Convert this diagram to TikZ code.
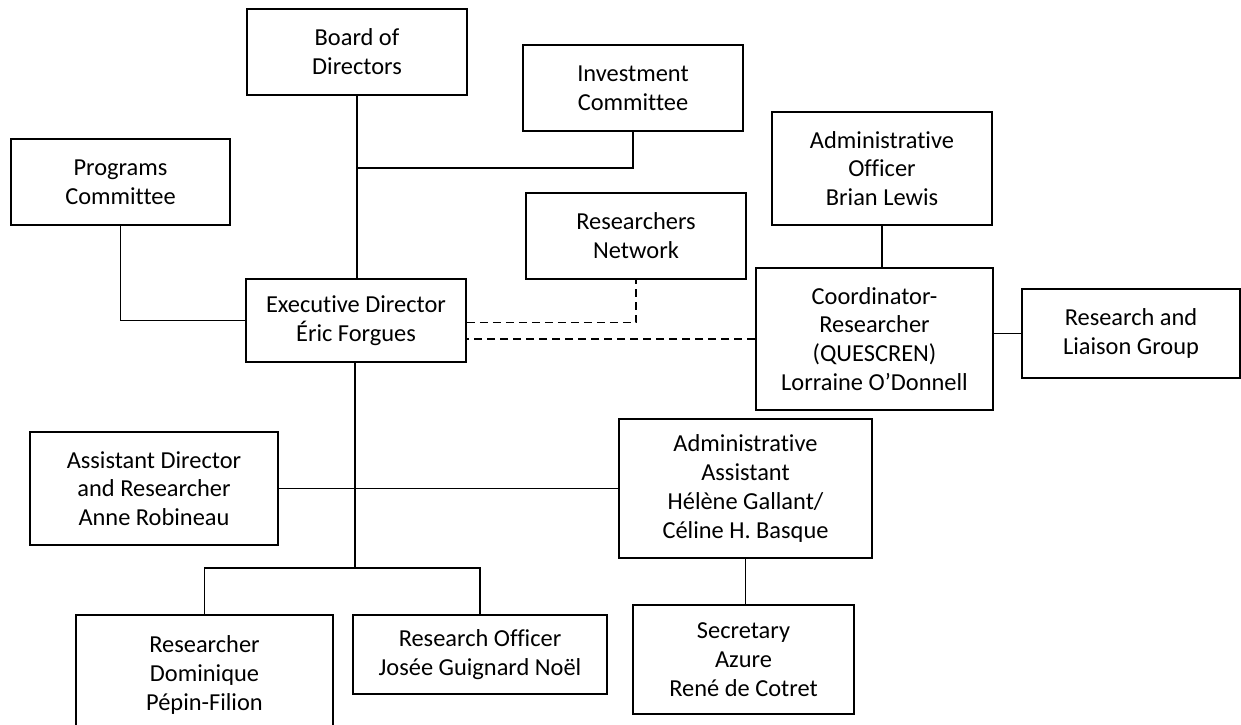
\documentclass[tikz,border=0pt]{standalone}
\usepackage{fontspec}
\setmainfont{Carlito}[Ligatures={NoCommon}]
\usepackage{xcolor}
\usepackage{tikz}

\tikzset{
    box/.style={draw, line width=0.8pt, align=center, inner sep=0pt, font=\fontsize{12.2}{14.4}\selectfont},
    link/.style={line width=0.8pt},
    dotlink/.style={line width=0.8pt, dash pattern=on 4pt off 2.5pt}
}

\begin{document}
\begin{tikzpicture}[x=0.5pt, y=-0.5pt]
        \useasboundingbox (0,0) rectangle (1241,724);

        \node[box, minimum width=110pt, minimum height=43pt] (board) at (357,52) {Board of\\Directors};
        \node[box, minimum width=110pt, minimum height=43pt] (invest) at (633,88) {Investment\\Committee};
        \node[box, minimum width=109.5pt, minimum height=43pt] (prog) at (120.5,182) {Programs\\Committee};
        \node[box, minimum width=110pt, minimum height=41.5pt] (exec) at (356,320.5) {Executive Director\\Éric Forgues};
        \node[box, minimum width=110pt, minimum height=43pt] (resnet) at (636,236) {Researchers\\Network};
        \node[box, minimum width=110pt, minimum height=56.5pt] (admoff) at (882,168.5) {Administrative\\Officer\\Brian Lewis};
        \node[box, minimum width=118.5pt, minimum height=71pt] (coord) at (874.5,339) {Coordinator-\\Researcher\\(QUESCREN)\\Lorraine O’Donnell};
        \node[box, minimum width=109pt, minimum height=44.5pt] (liaison) at (1131,333.5) {Research and\\Liaison Group};
        \node[box, minimum width=124pt, minimum height=56.5pt] (asstdir) at (154,488.5) {Assistant Director\\and Researcher\\Anne Robineau};
        \node[box, minimum width=126.5pt, minimum height=69.5pt] (admasst) at (745.5,488.5) {Administrative\\Assistant\\Hélène Gallant/\\Céline H. Basque};
        \node[box, minimum width=128.5pt, minimum height=60pt] (resr) at (204.5,675) {Researcher\\Dominique\\Pépin-Filion};
        \node[box, minimum width=127pt, minimum height=39.5pt] (resoff) at (480,654.5) {Research Officer\\Josée Guignard Noël};
        \node[box, minimum width=110.5pt, minimum height=54.5pt] (secr) at (743.5,659.5) {Secretary\\Azure\\René de Cotret};

        \coordinate (invjoin) at (357,168);
        \coordinate (split) at (355,568);

        \draw[link] (board.south) -- (board.south |- exec.north);
        \draw[link] (invest.south) |- (invjoin);
        \draw[link] (prog.south) |- (exec.west);
        \draw[dotlink] ([yshift=-1pt]exec.east) -| (resnet.south);
        \draw[dotlink] (coord.west) -- (coord.west -| exec.east);
        \draw[link] (admoff.south) -- (admoff.south |- coord.north);
        \draw[link] (liaison.west) -- (liaison.west -| coord.east);
        \draw[link] (exec.south -| split) -- (split);
        \draw[link] (asstdir.east) -- (admasst.west);
        \draw[link] (resr.north) |- (resoff.north |- split) -- (resoff.north);
        \draw[link] (admasst.south) -- (admasst.south |- secr.north);
    \end{tikzpicture}
\end{document}
